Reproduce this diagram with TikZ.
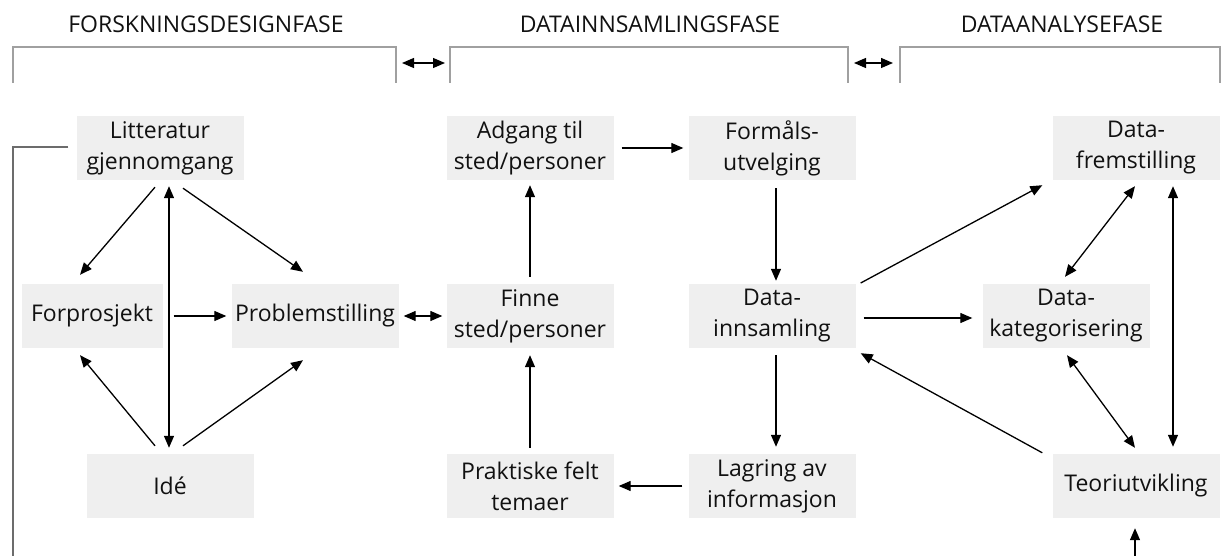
\documentclass[tikz,border=0pt]{standalone}
\usepackage{fontspec}
\setmainfont{Open Sans}
\usetikzlibrary{arrows.meta,calc}
\definecolor{boxgray}{HTML}{EFEFEF}
\definecolor{brgray}{HTML}{A0A0A0}
\definecolor{txt}{HTML}{111111}
\tikzset{
  box/.style={fill=boxgray,draw=none,minimum width=167pt,minimum height=64pt,inner sep=0pt,align=center,text=txt,font=\fontsize{23}{31}\selectfont},
  arr/.style={line width=1.3pt,-{Triangle[length=12pt,width=10pt]}},
  darr/.style={line width=1.3pt,{Triangle[length=12pt,width=10pt]}-{Triangle[length=12pt,width=10pt]}},
  bracket/.style={draw=brgray,line width=2.2pt},
  phase/.style={text=txt,font=\fontsize{23}{26}\selectfont,inner sep=0pt},
  feed/.style={draw=gray!85!black,line width=1.6pt}
}
\begin{document}
\begin{tikzpicture}[x=1pt,y=-1pt]
\useasboundingbox (0,0) rectangle (1224,556);
% phase titles
\node[phase] (t1) at (206,24) {FORSKNINGSDESIGNFASE};
\node[phase] (t2) at (650,24) {DATAINNSAMLINGSFASE};
\node[phase] (t3) at (1062,24) {DATAANALYSEFASE};
% brackets
\coordinate (b1l) at (13,83); \coordinate (b1r) at (396,83);
\coordinate (b2l) at (450,83); \coordinate (b2r) at (848,83);
\coordinate (b3l) at (900,83); \coordinate (b3r) at (1220,83);
\draw[bracket] (b1l) -- (13,47) -- (396,47) -- (b1r);
\draw[bracket] (b2l) -- (450,47) -- (848,47) -- (b2r);
\draw[bracket] (b3l) -- (900,47) -- (1220,47) -- (b3r);
\draw[darr] ($(b1r)+(6,-20)$) -- ($(b2l)+(-5,-20)$);
\draw[darr] ($(b2r)+(6,-20)$) -- ($(b3l)+(-7,-20)$);
% nodes
\node[box] (lit) at (160,148) {Litteratur\\gjennomgang};
\node[box,minimum width=141pt] (forp) at (92,316) {Forprosjekt};
\node[box] (prob) at (315,316) {Problemstilling};
\node[box] (ide) at (170,486) {Idé};
\node[box] (adg) at (530,148) {Adgang til\\sted/personer};
\node[box] (form) at (772,148) {Formåls-\\utvelging};
\node[box] (finne) at (530,316) {Finne\\sted/personer};
\node[box] (dinn) at (772,316) {Data-\\innsamling};
\node[box] (prak) at (530,486) {Praktiske felt\\temaer};
\node[box] (lag) at (772,486) {Lagring av\\informasjon};
\node[box] (dfrem) at (1136,148) {Data-\\fremstilling};
\node[box] (dkat) at (1066,316) {Data-\\kategorisering};
\node[box] (teori) at (1136,486) {Teoriutvikling};
% research design phase
\draw[arr] ($(lit.south)+(-5,7)$) -- ($(forp.north)+(-12,-9)$);
\draw[darr] ($(lit.south)+(9,6)$) -- ($(ide.north)+(-1,-6)$);
\draw[arr] ($(lit.south)+(23,8)$) -- ($(prob.north)+(-12,-12)$);
\draw[arr] ($(forp.east)+(11,0)$) -- ($(prob.west)+(-5,0)$);
\draw[arr] ($(ide.north)+(-15,-8)$) -- ($(forp.south)+(-12,7)$);
\draw[arr] ($(ide.north)+(13,-8)$) -- ($(prob.south)+(-12,12)$);
\draw[darr] ($(prob.east)+(5,0)$) -- ($(finne.west)+(-4,0)$);
% data collection phase
\draw[arr] ($(finne.north)+(0,-7)$) -- ($(adg.south)+(0,5)$);
\draw[arr] ($(prak.north)+(0,-6)$) -- ($(finne.south)+(0,7)$);
\draw[arr] ($(adg.east)+(8,0)$) -- ($(form.west)+(-5,0)$);
\draw[arr] ($(form.south)+(4,8)$) -- ($(dinn.north)+(4,-3)$);
\draw[arr] ($(dinn.south)+(4,7)$) -- ($(lag.north)+(4,-7)$);
\draw[arr] ($(lag.west)+(-6,0)$) -- ($(prak.east)+(5,0)$);
% analysis phase
\draw[arr] ($(dinn.east)+(5,-33)$) -- ($(dfrem.south west)+(-10,5)$);
\draw[arr] ($(dinn.east)+(8,2)$) -- ($(dkat.west)+(-10,2)$);
\draw[arr] ($(teori.north west)+(-10,-1)$) -- ($(dinn.south east)+(5,5)$);
\draw[darr] ($(dfrem.south)+(-1,6)$) -- ($(dkat.north)+(-1,-7)$);
\draw[darr] ($(dkat.south)+(1,7)$) -- ($(teori.north)+(-1,-6)$);
\draw[darr] ($(dfrem.south)+(37,6)$) -- ($(teori.north)+(37,-7)$);
\coordinate (bot) at (1135,557);
\draw[arr] (bot) -- ($(teori.south)+(-1,10)$);
% feedback line from literature
\coordinate (fl) at (13,147);
\coordinate (fb) at (13,557);
\draw[feed] ($(lit.west)+(-8,-1)$) -- (fl) -- (fb);
\end{tikzpicture}
\end{document}
